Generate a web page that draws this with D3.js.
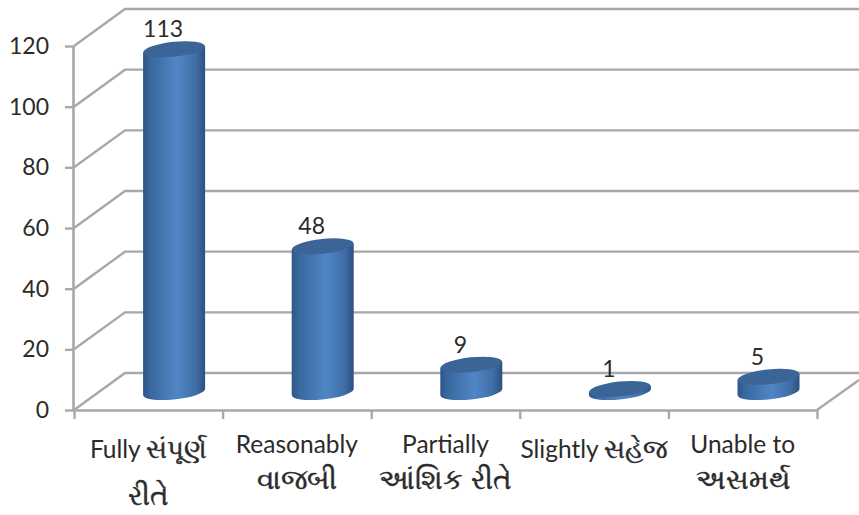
<!DOCTYPE html>
<html><head><meta charset="utf-8">
<script src="https://cdn.jsdelivr.net/npm/d3@7/dist/d3.min.js"></script>
<style>html,body{margin:0;background:#fff}svg{display:block}text{font-family:Lato,"Noto Sans",sans-serif;fill:#2b2b2b}.guj{stroke:#2b2b2b;stroke-width:.45px}</style>
</head><body><svg id="c" width="859" height="515"></svg>
<script>
const categories = ["Fully","Reasonably","Partially","Slightly","Unable to"];
const gujaratiInline = ["સંપૂર્ણ","","","સહેજ",""];
const gujaratiBelow = ["રીતે","વાજબી","આંશિક રીતે","","અસમર્થ"];
const values = [113,48,9,1,5];
const yTicks = [0,20,40,60,80,100,120];

const svg = d3.select("#c");
const x0 = 74, x1 = 817, y0 = 410, yTop = 46, dx = 51, dy = -37;
const x = d3.scaleBand().domain(categories).range([x0,x1]);
const y = d3.scaleLinear().domain([0,120]).range([y0,yTop]);
const grid = "#a8a8a8";

const defs = svg.append("defs");
const g = defs.append("linearGradient").attr("id","cyl").attr("x1","0").attr("x2","1").attr("y1","0").attr("y2","0");
[[0,"#2f5788"],[0.12,"#3a689f"],[0.55,"#5086c6"],[0.85,"#3f6ea6"],[1,"#2d5080"]].forEach(s=>g.append("stop").attr("offset",s[0]).attr("stop-color",s[1]));

// walls and floor
const walls = svg.append("g").attr("fill","none").attr("stroke",grid).attr("stroke-width",2.4);
yTicks.forEach(t=>{
  walls.append("path").attr("d",`M${x0},${y(t)}L${x0+dx},${y(t)+dy}L859,${y(t)+dy}`);
});
walls.append("path").attr("d",`M${x1},${y0}L859,${y0-30}`);

// axes
const ay = svg.append("g").attr("transform",`translate(${x0},0)`).call(d3.axisLeft(y).tickValues(yTicks).tickSize(9).tickPadding(16));
const ax = svg.append("g").attr("transform",`translate(0,${y0})`).call(d3.axisBottom(d3.scaleLinear().domain([0,5]).range([x0,x1])).ticks(5).tickFormat("").tickSize(9));
[ay,ax].forEach(a=>{a.select(".domain").attr("stroke",grid).attr("stroke-width",2.6);a.selectAll("line").attr("stroke",grid).attr("stroke-width",2.4);});
ax.select(".domain").attr("d",`M${x0},0.5H${x1}`);
ay.select(".domain").attr("d",`M-0.5,${yTop}V${y0}`);
ay.selectAll("text").attr("font-size",23).style("fill","#2b2b2b");

// cylinders
const rx = 31, ry = 7.4, rot = -6, baseY = 392, tilt = 3, off = 25.8;
const bars = svg.append("g").selectAll("g").data(values).join("g")
  .attr("transform",(d,i)=>`translate(${x(categories[i])+x.bandwidth()/2+off},0)`);
bars.append("path").attr("fill","url(#cyl)").attr("d",d=>{
  const top = y(d)-(y0-baseY);
  return `M${-rx},${top+tilt}L${-rx},${baseY+tilt}A${rx},${ry} ${rot} 0 0 ${rx},${baseY-tilt}L${rx},${top-tilt}Z`;
});
bars.append("ellipse").attr("rx",rx).attr("ry",ry).attr("fill","#3b6497")
  .attr("transform",d=>`translate(0,${y(d)-(y0-baseY)}) rotate(${rot})`);
bars.append("text").attr("text-anchor","middle").attr("font-size",23).attr("x",-11)
  .attr("y",d=>y(d)-(y0-baseY)-12).text(d=>d);

// category labels
const lab = svg.append("g").attr("text-anchor","middle").selectAll("g").data(categories).join("g")
  .attr("transform",(d,i)=>`translate(${x(d)+x.bandwidth()/2},0)`);
const line1 = lab.append("text").attr("font-size",24.5).attr("y",(d,i)=>gujaratiInline[i]?458:453);
line1.append("tspan").text(d=>d);
line1.append("tspan").attr("class","guj").attr("font-size",26).attr("dx",5).text((d,i)=>gujaratiInline[i]);
lab.append("text").attr("class","guj").attr("font-size",28)
  .attr("y",(d,i)=>gujaratiInline[i]?505:489).text((d,i)=>gujaratiBelow[i]);
</script></body></html>
